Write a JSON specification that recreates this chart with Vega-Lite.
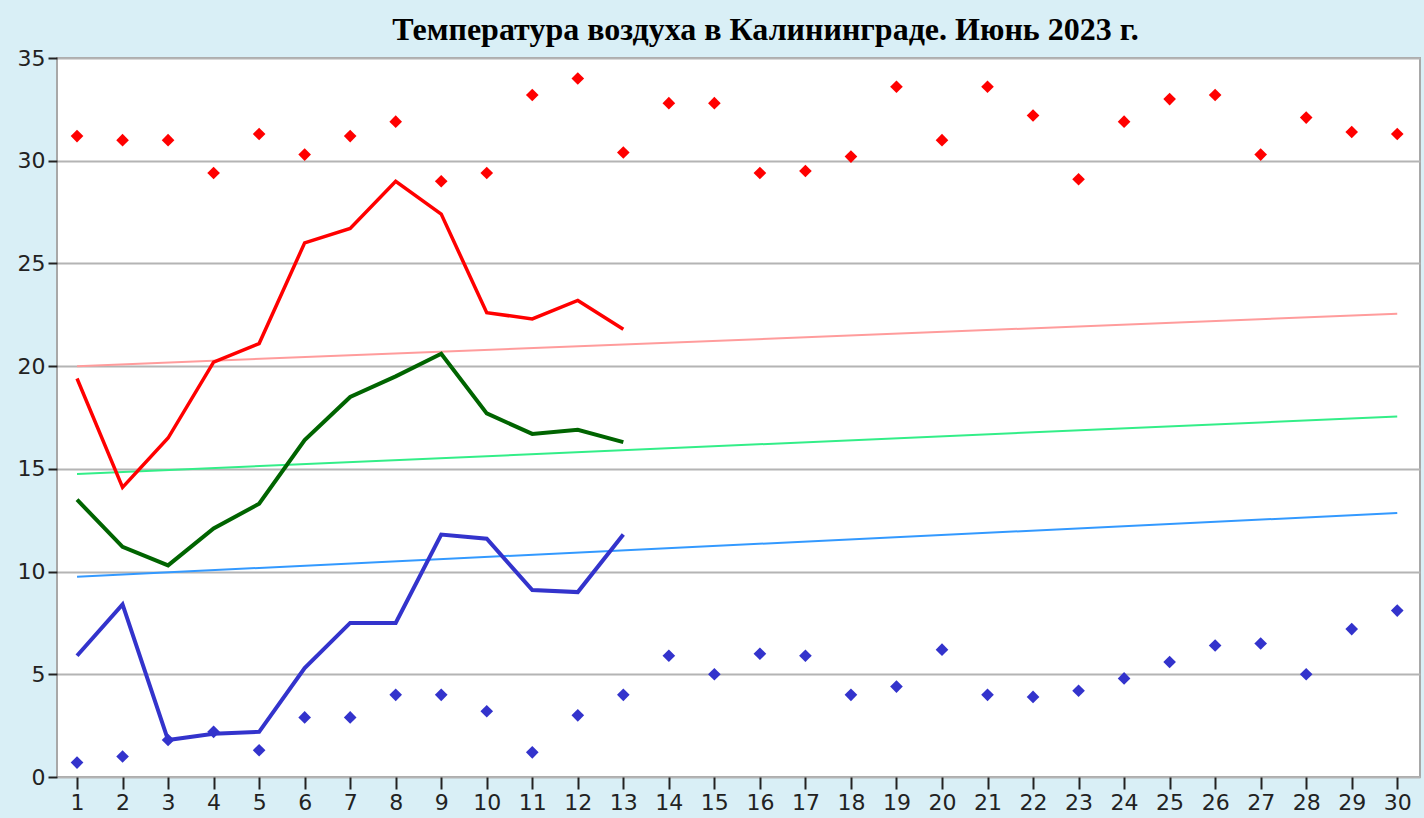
{
  "$schema": "https://vega.github.io/schema/vega-lite/v6.json",
  "width": 1363,
  "height": 719,
  "autosize": "none",
  "padding": {"left": 57, "top": 58, "right": 4, "bottom": 41},
  "background": "#d9eff6",
  "config": {
    "view": {"fill": "white", "stroke": "#a8a8a8", "strokeWidth": 2}
  },
  "title": {
    "text": "Температура воздуха в Калининграде. Июнь 2023 г.",
    "font": "Liberation Serif",
    "fontSize": 32,
    "fontWeight": "bold",
    "color": "#000000",
    "anchor": "middle",
    "frame": "group",
    "dx": 27,
    "offset": 0
  },
  "data": {
    "values": [
      {"d": 1, "s": "nmax", "v": 20.0}, {"d": 30, "s": "nmax", "v": 22.55},
      {"d": 1, "s": "nmean", "v": 14.75}, {"d": 30, "s": "nmean", "v": 17.55},
      {"d": 1, "s": "nmin", "v": 9.75}, {"d": 30, "s": "nmin", "v": 12.85},
      {"d": 1, "s": "max", "v": 19.4}, {"d": 2, "s": "max", "v": 14.1}, {"d": 3, "s": "max", "v": 16.5}, {"d": 4, "s": "max", "v": 20.2}, {"d": 5, "s": "max", "v": 21.1}, {"d": 6, "s": "max", "v": 26.0}, {"d": 7, "s": "max", "v": 26.7}, {"d": 8, "s": "max", "v": 29.0}, {"d": 9, "s": "max", "v": 27.4}, {"d": 10, "s": "max", "v": 22.6}, {"d": 11, "s": "max", "v": 22.3}, {"d": 12, "s": "max", "v": 23.2}, {"d": 13, "s": "max", "v": 21.8},
      {"d": 1, "s": "mean", "v": 13.5}, {"d": 2, "s": "mean", "v": 11.2}, {"d": 3, "s": "mean", "v": 10.3}, {"d": 4, "s": "mean", "v": 12.1}, {"d": 5, "s": "mean", "v": 13.3}, {"d": 6, "s": "mean", "v": 16.4}, {"d": 7, "s": "mean", "v": 18.5}, {"d": 8, "s": "mean", "v": 19.5}, {"d": 9, "s": "mean", "v": 20.6}, {"d": 10, "s": "mean", "v": 17.7}, {"d": 11, "s": "mean", "v": 16.7}, {"d": 12, "s": "mean", "v": 16.9}, {"d": 13, "s": "mean", "v": 16.3},
      {"d": 1, "s": "min", "v": 5.9}, {"d": 2, "s": "min", "v": 8.4}, {"d": 3, "s": "min", "v": 1.8}, {"d": 4, "s": "min", "v": 2.1}, {"d": 5, "s": "min", "v": 2.2}, {"d": 6, "s": "min", "v": 5.3}, {"d": 7, "s": "min", "v": 7.5}, {"d": 8, "s": "min", "v": 7.5}, {"d": 9, "s": "min", "v": 11.8}, {"d": 10, "s": "min", "v": 11.6}, {"d": 11, "s": "min", "v": 9.1}, {"d": 12, "s": "min", "v": 9.0}, {"d": 13, "s": "min", "v": 11.8},
      {"d": 1, "s": "hi", "v": 31.2}, {"d": 2, "s": "hi", "v": 31.0}, {"d": 3, "s": "hi", "v": 31.0}, {"d": 4, "s": "hi", "v": 29.4}, {"d": 5, "s": "hi", "v": 31.3}, {"d": 6, "s": "hi", "v": 30.3}, {"d": 7, "s": "hi", "v": 31.2}, {"d": 8, "s": "hi", "v": 31.9}, {"d": 9, "s": "hi", "v": 29.0}, {"d": 10, "s": "hi", "v": 29.4}, {"d": 11, "s": "hi", "v": 33.2}, {"d": 12, "s": "hi", "v": 34.0}, {"d": 13, "s": "hi", "v": 30.4}, {"d": 14, "s": "hi", "v": 32.8}, {"d": 15, "s": "hi", "v": 32.8}, {"d": 16, "s": "hi", "v": 29.4}, {"d": 17, "s": "hi", "v": 29.5}, {"d": 18, "s": "hi", "v": 30.2}, {"d": 19, "s": "hi", "v": 33.6}, {"d": 20, "s": "hi", "v": 31.0}, {"d": 21, "s": "hi", "v": 33.6}, {"d": 22, "s": "hi", "v": 32.2}, {"d": 23, "s": "hi", "v": 29.1}, {"d": 24, "s": "hi", "v": 31.9}, {"d": 25, "s": "hi", "v": 33.0}, {"d": 26, "s": "hi", "v": 33.2}, {"d": 27, "s": "hi", "v": 30.3}, {"d": 28, "s": "hi", "v": 32.1}, {"d": 29, "s": "hi", "v": 31.4}, {"d": 30, "s": "hi", "v": 31.3},
      {"d": 1, "s": "lo", "v": 0.7}, {"d": 2, "s": "lo", "v": 1.0}, {"d": 3, "s": "lo", "v": 1.8}, {"d": 4, "s": "lo", "v": 2.2}, {"d": 5, "s": "lo", "v": 1.3}, {"d": 6, "s": "lo", "v": 2.9}, {"d": 7, "s": "lo", "v": 2.9}, {"d": 8, "s": "lo", "v": 4.0}, {"d": 9, "s": "lo", "v": 4.0}, {"d": 10, "s": "lo", "v": 3.2}, {"d": 11, "s": "lo", "v": 1.2}, {"d": 12, "s": "lo", "v": 3.0}, {"d": 13, "s": "lo", "v": 4.0}, {"d": 14, "s": "lo", "v": 5.9}, {"d": 15, "s": "lo", "v": 5.0}, {"d": 16, "s": "lo", "v": 6.0}, {"d": 17, "s": "lo", "v": 5.9}, {"d": 18, "s": "lo", "v": 4.0}, {"d": 19, "s": "lo", "v": 4.4}, {"d": 20, "s": "lo", "v": 6.2}, {"d": 21, "s": "lo", "v": 4.0}, {"d": 22, "s": "lo", "v": 3.9}, {"d": 23, "s": "lo", "v": 4.2}, {"d": 24, "s": "lo", "v": 4.8}, {"d": 25, "s": "lo", "v": 5.6}, {"d": 26, "s": "lo", "v": 6.4}, {"d": 27, "s": "lo", "v": 6.5}, {"d": 28, "s": "lo", "v": 5.0}, {"d": 29, "s": "lo", "v": 7.2}, {"d": 30, "s": "lo", "v": 8.1}
    ]
  },
  "encoding": {
    "x": {
      "field": "d", "type": "quantitative", "title": null,
      "scale": {"domain": [0.56, 30.5], "nice": false, "zero": false},
      "axis": {"values": [1,2,3,4,5,6,7,8,9,10,11,12,13,14,15,16,17,18,19,20,21,22,23,24,25,26,27,28,29,30], "format": "d", "grid": false, "domain": false, "tickSize": 12, "tickWidth": 2, "tickColor": "#222222", "labelPadding": 3, "labelFont": "DejaVu Sans", "labelFontSize": 22, "labelColor": "#222222"}
    },
    "y": {
      "field": "v", "type": "quantitative", "title": null,
      "scale": {"domain": [0, 35], "nice": false},
      "axis": {"values": [0,5,10,15,20,25,30,35], "grid": true, "gridColor": "#b4b4b4", "gridWidth": 2, "domain": false, "tickSize": 9, "tickWidth": 2, "tickColor": "#222222", "labelPadding": 3, "labelFont": "DejaVu Sans", "labelFontSize": 22, "labelColor": "#222222"}
    }
  },
  "layer": [
    {"transform": [{"filter": "datum.s === 'nmax'"}], "mark": {"type": "line", "color": "#ff9c9c", "strokeWidth": 2}},
    {"transform": [{"filter": "datum.s === 'nmean'"}], "mark": {"type": "line", "color": "#33ee88", "strokeWidth": 2}},
    {"transform": [{"filter": "datum.s === 'nmin'"}], "mark": {"type": "line", "color": "#3399ff", "strokeWidth": 2}},
    {"transform": [{"filter": "datum.s === 'mean'"}], "mark": {"type": "line", "color": "#006400", "strokeWidth": 4}},
    {"transform": [{"filter": "datum.s === 'max'"}], "mark": {"type": "line", "color": "#ff0000", "strokeWidth": 3.5}},
    {"transform": [{"filter": "datum.s === 'min'"}], "mark": {"type": "line", "color": "#3333cc", "strokeWidth": 4}},
    {"transform": [{"filter": "datum.s === 'hi'"}], "mark": {"type": "point", "shape": "diamond", "filled": true, "opacity": 1, "color": "#ff0000", "size": 160}},
    {"transform": [{"filter": "datum.s === 'lo'"}], "mark": {"type": "point", "shape": "diamond", "filled": true, "opacity": 1, "color": "#3333cc", "size": 160}}
  ]
}
